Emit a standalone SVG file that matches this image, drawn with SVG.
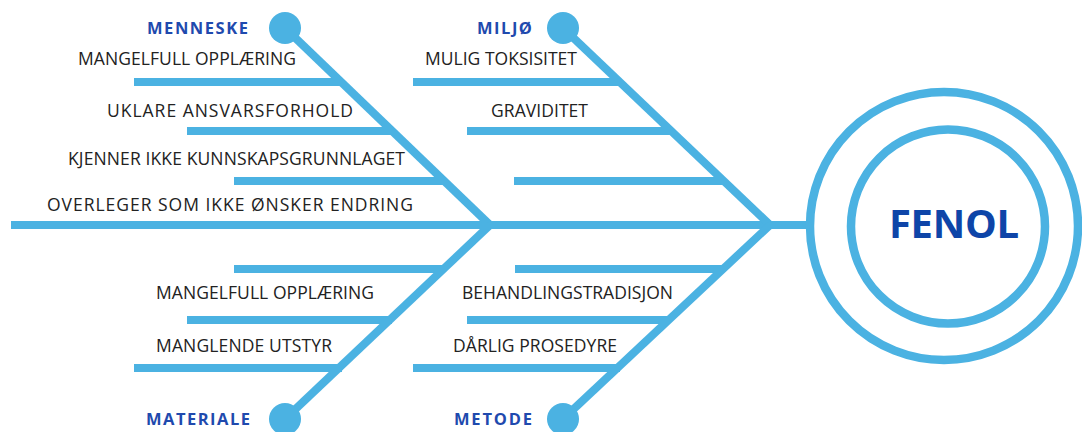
<svg xmlns="http://www.w3.org/2000/svg" width="1082" height="432" viewBox="0 0 1082 432">
<style>
.ln{stroke:#4BB2E2;stroke-width:8;fill:none;stroke-linecap:butt}
.ring{stroke:#4BB2E2;stroke-width:8.5;fill:none}
.dot{fill:#4BB2E2}
.t{font-family:"Open Sans","Liberation Sans",sans-serif;font-size:17.5px;fill:#222;text-anchor:end}
.h{font-family:"Open Sans","Liberation Sans",sans-serif;font-size:16.5px;font-weight:bold;fill:#1F4AAE;text-anchor:end}
.c{font-family:"Open Sans","Liberation Sans",sans-serif;font-size:40px;font-weight:bold;fill:#0E45A8;text-anchor:middle}
</style>
<rect width="1082" height="432" fill="#fff"/>
<g id="connectors">
<line class="ln" x1="11" y1="225" x2="810" y2="225"/>
<line class="ln" x1="285" y1="28" x2="490" y2="225"/>
<line class="ln" x1="285" y1="419" x2="490" y2="225"/>
<line class="ln" x1="563" y1="28" x2="770" y2="225"/>
<line class="ln" x1="563" y1="419" x2="770" y2="225"/>
<line class="ln" x1="134" y1="82" x2="342" y2="82"/>
<line class="ln" x1="187" y1="131" x2="393" y2="131"/>
<line class="ln" x1="234" y1="181" x2="444" y2="181"/>
<line class="ln" x1="413" y1="82" x2="620" y2="82"/>
<line class="ln" x1="467" y1="131" x2="671" y2="131"/>
<line class="ln" x1="514" y1="181" x2="723" y2="181"/>
<line class="ln" x1="234" y1="269" x2="444" y2="269"/>
<line class="ln" x1="187" y1="320" x2="392" y2="320"/>
<line class="ln" x1="134" y1="368" x2="342" y2="368"/>
<line class="ln" x1="515" y1="269" x2="724" y2="269"/>
<line class="ln" x1="467" y1="320" x2="670" y2="320"/>
<line class="ln" x1="413" y1="368" x2="620" y2="368"/>
</g>
<g id="menneske"><circle class="dot" cx="285" cy="28" r="16"/><text class="h" x="248" y="34" textLength="101" lengthAdjust="spacing">MENNESKE</text></g>
<g id="miljo"><circle class="dot" cx="563" cy="28" r="16"/><text class="h" x="532" y="34" textLength="55" lengthAdjust="spacing">MILJØ</text></g>
<g id="materiale"><circle class="dot" cx="285" cy="419" r="16"/><text class="h" x="250" y="425" textLength="104" lengthAdjust="spacing">MATERIALE</text></g>
<g id="metode"><circle class="dot" cx="563" cy="419" r="16"/><text class="h" x="532" y="425" textLength="78" lengthAdjust="spacing">METODE</text></g>
<g id="c1"><text class="t" x="296" y="65" textLength="218" lengthAdjust="spacing">MANGELFULL OPPLÆRING</text></g>
<g id="c2"><text class="t" x="353" y="117" textLength="246" lengthAdjust="spacing">UKLARE ANSVARSFORHOLD</text></g>
<g id="c3"><text class="t" x="405" y="165" textLength="337" lengthAdjust="spacing">KJENNER IKKE KUNNSKAPSGRUNNLAGET</text></g>
<g id="c4"><text class="t" x="413" y="211" textLength="366" lengthAdjust="spacing">OVERLEGER SOM IKKE ØNSKER ENDRING</text></g>
<g id="c5"><text class="t" x="577" y="65" textLength="152" lengthAdjust="spacing">MULIG TOKSISITET</text></g>
<g id="c6"><text class="t" x="588" y="117" textLength="97" lengthAdjust="spacing">GRAVIDITET</text></g>
<g id="c7"><text class="t" x="374" y="299" textLength="218" lengthAdjust="spacing">MANGELFULL OPPLÆRING</text></g>
<g id="c8"><text class="t" x="332" y="352" textLength="176" lengthAdjust="spacing">MANGLENDE UTSTYR</text></g>
<g id="c9"><text class="t" x="673" y="299" textLength="211" lengthAdjust="spacing">BEHANDLINGSTRADISJON</text></g>
<g id="c10"><text class="t" x="617" y="352" textLength="164" lengthAdjust="spacing">DÅRLIG PROSEDYRE</text></g>
<g id="fenol">
<circle class="ring" cx="944" cy="226" r="134"/>
<circle class="ring" cx="948" cy="226.5" r="97"/>
<text class="c" x="954" y="238" textLength="130" lengthAdjust="spacing">FENOL</text>
</g>
</svg>
